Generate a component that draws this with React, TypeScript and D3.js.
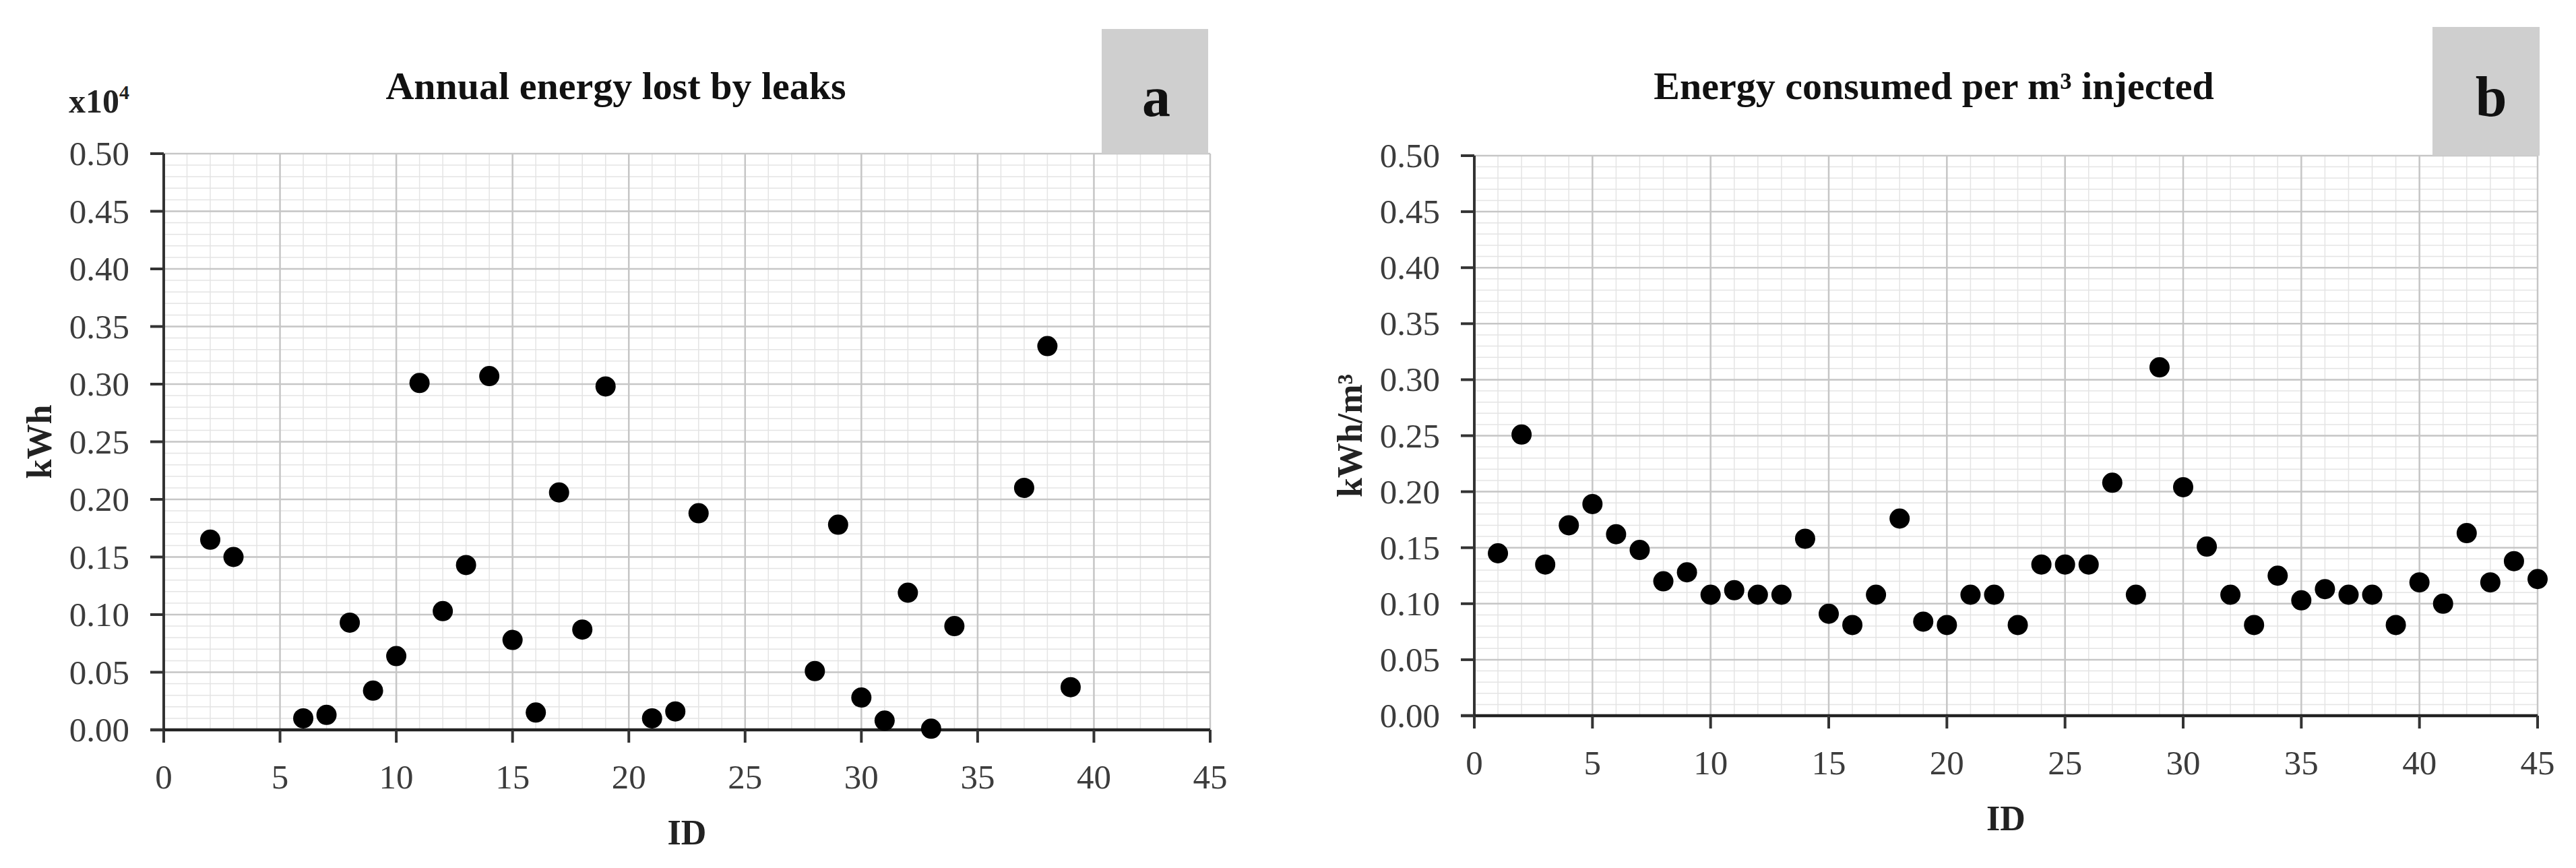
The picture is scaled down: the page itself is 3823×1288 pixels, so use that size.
import { useEffect, useRef } from 'react'
import * as d3 from 'd3'

const WIDTH = 3823
const HEIGHT = 1288
const FONT = "'Liberation Serif', 'Times New Roman', serif"

// Panel a: annual energy lost by leaks (x10^4 kWh)
const idsA = [2, 3, 6, 7, 8, 9, 10, 11, 12, 13, 14, 15, 16, 17, 18, 19, 21, 22, 23, 28, 29, 30, 31, 32, 33, 34, 37, 38, 39]
const lossA = [0.165, 0.150, 0.010, 0.013, 0.093, 0.034, 0.064, 0.301, 0.103, 0.143, 0.307, 0.078, 0.015, 0.206, 0.087, 0.298, 0.010, 0.016, 0.188, 0.051, 0.178, 0.028, 0.008, 0.119, 0.001, 0.090, 0.210, 0.333, 0.037]

// Panel b: energy consumed per m3 injected (kWh/m3)
const idsB = [1, 2, 3, 4, 5, 6, 7, 8, 9, 10, 11, 12, 13, 14, 15, 16, 17, 18, 19, 20, 21, 22, 23, 24, 25, 26, 27, 28, 29, 30, 31, 32, 33, 34, 35, 36, 37, 38, 39, 40, 41, 42, 43, 44, 45]
const energyB = [0.145, 0.251, 0.135, 0.170, 0.189, 0.162, 0.148, 0.120, 0.128, 0.108, 0.112, 0.108, 0.108, 0.158, 0.091, 0.081, 0.108, 0.176, 0.084, 0.081, 0.108, 0.108, 0.081, 0.135, 0.135, 0.135, 0.208, 0.108, 0.311, 0.204, 0.151, 0.108, 0.081, 0.125, 0.103, 0.113, 0.108, 0.108, 0.081, 0.119, 0.100, 0.163, 0.119, 0.138, 0.122]

const xTicks = [0, 5, 10, 15, 20, 25, 30, 35, 40, 45]
const yTicks = [0, 0.05, 0.10, 0.15, 0.20, 0.25, 0.30, 0.35, 0.40, 0.45, 0.50]

type Panel = {
  ids: number[]
  values: number[]
  left: number
  right: number
  top: number
  bottom: number
  title: string
  letter: string
  yLabel: string
  titleX: number
  box: [number, number, number, number]
  letterX: number
}

const panels: Panel[] = [
  {
    ids: idsA, values: lossA,
    left: 243, right: 1796, top: 228, bottom: 1083,
    title: 'Annual energy lost by leaks', letter: 'a', yLabel: 'kWh',
    titleX: 914, box: [1635, 43, 1793, 228], letterX: 1716
  },
  {
    ids: idsB, values: energyB,
    left: 2188, right: 3766, top: 231, bottom: 1062,
    title: 'Energy consumed per m³ injected', letter: 'b', yLabel: 'kWh/m³',
    titleX: 2870, box: [3610, 40, 3769, 231], letterX: 3697
  }
]

function drawPanel(svg: d3.Selection<SVGSVGElement, unknown, null, undefined>, p: Panel) {
  const x = d3.scaleLinear().domain([0, 45]).range([p.left, p.right])
  const y = d3.scaleLinear().domain([0, 0.5]).range([p.bottom, p.top])
  const g = svg.append('g')

  // minor grid
  g.append('g').selectAll('line.mx')
    .data(d3.range(1, 45))
    .enter().append('line')
    .attr('x1', d => x(d)).attr('x2', d => x(d))
    .attr('y1', p.top).attr('y2', p.bottom)
    .attr('stroke', '#e4e4e4').attr('stroke-width', 1.5)
  g.append('g').selectAll('line.my')
    .data(d3.range(1, 50).map(i => i / 100))
    .enter().append('line')
    .attr('x1', p.left).attr('x2', p.right)
    .attr('y1', d => y(d)).attr('y2', d => y(d))
    .attr('stroke', '#e4e4e4').attr('stroke-width', 1.5)

  // major grid
  g.append('g').selectAll('line')
    .data(xTicks.slice(1))
    .enter().append('line')
    .attr('x1', d => x(d)).attr('x2', d => x(d))
    .attr('y1', p.top).attr('y2', p.bottom)
    .attr('stroke', '#c6c6c6').attr('stroke-width', 2.5)
  g.append('g').selectAll('line')
    .data(yTicks.slice(1))
    .enter().append('line')
    .attr('x1', p.left).attr('x2', p.right)
    .attr('y1', d => y(d)).attr('y2', d => y(d))
    .attr('stroke', '#c6c6c6').attr('stroke-width', 2.5)

  // axes
  const axisColor = '#333'
  g.append('line')
    .attr('x1', p.left).attr('x2', p.left)
    .attr('y1', p.top).attr('y2', p.bottom)
    .attr('stroke', axisColor).attr('stroke-width', 4)
  g.append('line')
    .attr('x1', p.left - 20).attr('x2', p.right)
    .attr('y1', p.bottom).attr('y2', p.bottom)
    .attr('stroke', '#222').attr('stroke-width', 4.5)

  g.append('g').selectAll('line')
    .data(yTicks)
    .enter().append('line')
    .attr('x1', p.left - 20).attr('x2', p.left)
    .attr('y1', d => y(d)).attr('y2', d => y(d))
    .attr('stroke', axisColor).attr('stroke-width', 4)
  g.append('g').selectAll('line')
    .data(xTicks)
    .enter().append('line')
    .attr('x1', d => x(d)).attr('x2', d => x(d))
    .attr('y1', p.bottom).attr('y2', p.bottom + 19)
    .attr('stroke', axisColor).attr('stroke-width', 4)

  // tick labels
  g.append('g').selectAll('text')
    .data(yTicks)
    .enter().append('text')
    .attr('x', p.left - 51)
    .attr('y', d => y(d) + 17)
    .attr('text-anchor', 'end')
    .attr('font-family', FONT).attr('font-size', 51)
    .attr('fill', '#3c3c3c')
    .text(d => d3.format('.2f')(d))
  g.append('g').selectAll('text')
    .data(xTicks)
    .enter().append('text')
    .attr('x', d => x(d))
    .attr('y', p.bottom + 87)
    .attr('text-anchor', 'middle')
    .attr('font-family', FONT).attr('font-size', 51)
    .attr('fill', '#3c3c3c')
    .text(d => d)

  // axis titles
  g.append('text')
    .attr('x', (p.left + p.right) / 2)
    .attr('y', p.bottom + 170)
    .attr('text-anchor', 'middle')
    .attr('font-family', FONT).attr('font-size', 52).attr('font-weight', 'bold')
    .attr('fill', '#222')
    .text('ID')
  g.append('text')
    .attr('transform', `translate(${p.left - 167}, ${(p.top + p.bottom) / 2}) rotate(-90)`)
    .attr('text-anchor', 'middle')
    .attr('font-family', FONT).attr('font-size', 52).attr('font-weight', 'bold')
    .attr('fill', '#222')
    .text(p.yLabel)

  // title
  g.append('text')
    .attr('x', p.titleX)
    .attr('y', 147)
    .attr('text-anchor', 'middle')
    .attr('font-family', FONT).attr('font-size', 58).attr('font-weight', 'bold')
    .attr('fill', '#111')
    .text(p.title)

  // panel letter box
  const [bx0, by0, bx1, by1] = p.box
  g.append('rect')
    .attr('x', bx0).attr('y', by0)
    .attr('width', bx1 - bx0).attr('height', by1 - by0)
    .attr('fill', '#cfcfcf')
  g.append('text')
    .attr('x', p.letterX)
    .attr('y', 172)
    .attr('text-anchor', 'middle')
    .attr('font-family', FONT).attr('font-size', 84).attr('font-weight', 'bold')
    .attr('fill', '#111')
    .text(p.letter)

  // points
  g.append('g').selectAll('circle')
    .data(p.ids.map((id, i) => ({ id, v: p.values[i] })))
    .enter().append('circle')
    .attr('cx', d => x(d.id))
    .attr('cy', d => y(d.v))
    .attr('r', 15)
    .attr('fill', '#000')
}

export default function App() {
  const svgRef = useRef<SVGSVGElement>(null)

  useEffect(() => {
    if (!svgRef.current) return
    const svg = d3.select(svgRef.current)
    svg.selectAll('*').remove()

    svg.append('rect').attr('width', WIDTH).attr('height', HEIGHT).attr('fill', '#fff')

    panels.forEach(p => drawPanel(svg, p))

    // x10^4 multiplier on panel a
    const mult = svg.append('text')
      .attr('x', 102).attr('y', 167)
      .attr('font-family', FONT).attr('font-size', 50).attr('font-weight', 'bold')
      .attr('fill', '#222')
    mult.append('tspan').text('x10')
    mult.append('tspan').attr('font-size', 30).attr('dy', -20).text('4')
  }, [])

  return (
    <svg
      ref={svgRef}
      width={WIDTH}
      height={HEIGHT}
      style={{ position: 'absolute', left: 0, top: 0, display: 'block' }}
    />
  )
}
